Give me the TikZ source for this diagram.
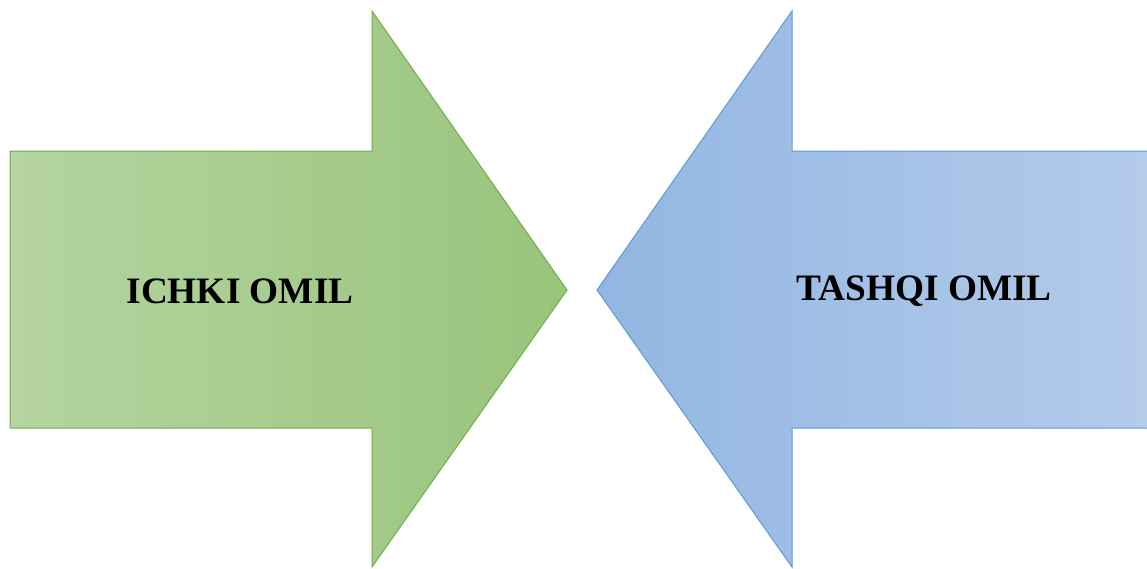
\documentclass[tikz,border=0pt]{standalone}
\usepackage{fontspec}
\setmainfont{Liberation Serif}
\definecolor{gfillL}{HTML}{B5D4A1}
\definecolor{gfillR}{HTML}{98C47B}
\definecolor{gline}{HTML}{70AD47}
\definecolor{bfillL}{HTML}{92B6E2}
\definecolor{bfillR}{HTML}{B4CBEA}
\definecolor{bline}{HTML}{5B9BD5}
\begin{document}
\begin{tikzpicture}[x=1pt,y=-1pt,
  lbl/.style={font=\bfseries\fontsize{37.3}{41}\selectfont, text=black}]
\useasboundingbox (0,0) rectangle (1147,568);
\path[left color=gfillL, right color=gfillR, draw=gline, line width=1pt, line join=miter]
  (10,151) -- (372,151) -- (372,11) -- (567,290) -- (372,567) -- (372,428) -- (10,428) -- cycle;
\path[left color=bfillL, right color=bfillR]
  (1147,151) -- (792,151) -- (792,11) -- (597,290) -- (792,567) -- (792,428) -- (1147,428) -- cycle;
\draw[bline, line width=1pt, line join=miter]
  (1147,151) -- (792,151) -- (792,11) -- (597,290) -- (792,567) -- (792,428) -- (1147,428);
\node[lbl] (ichki) at (240,291) {ICHKI OMIL};
\node[lbl] (tashqi) at (924,291) {TASHQI OMIL};
\end{tikzpicture}
\end{document}
